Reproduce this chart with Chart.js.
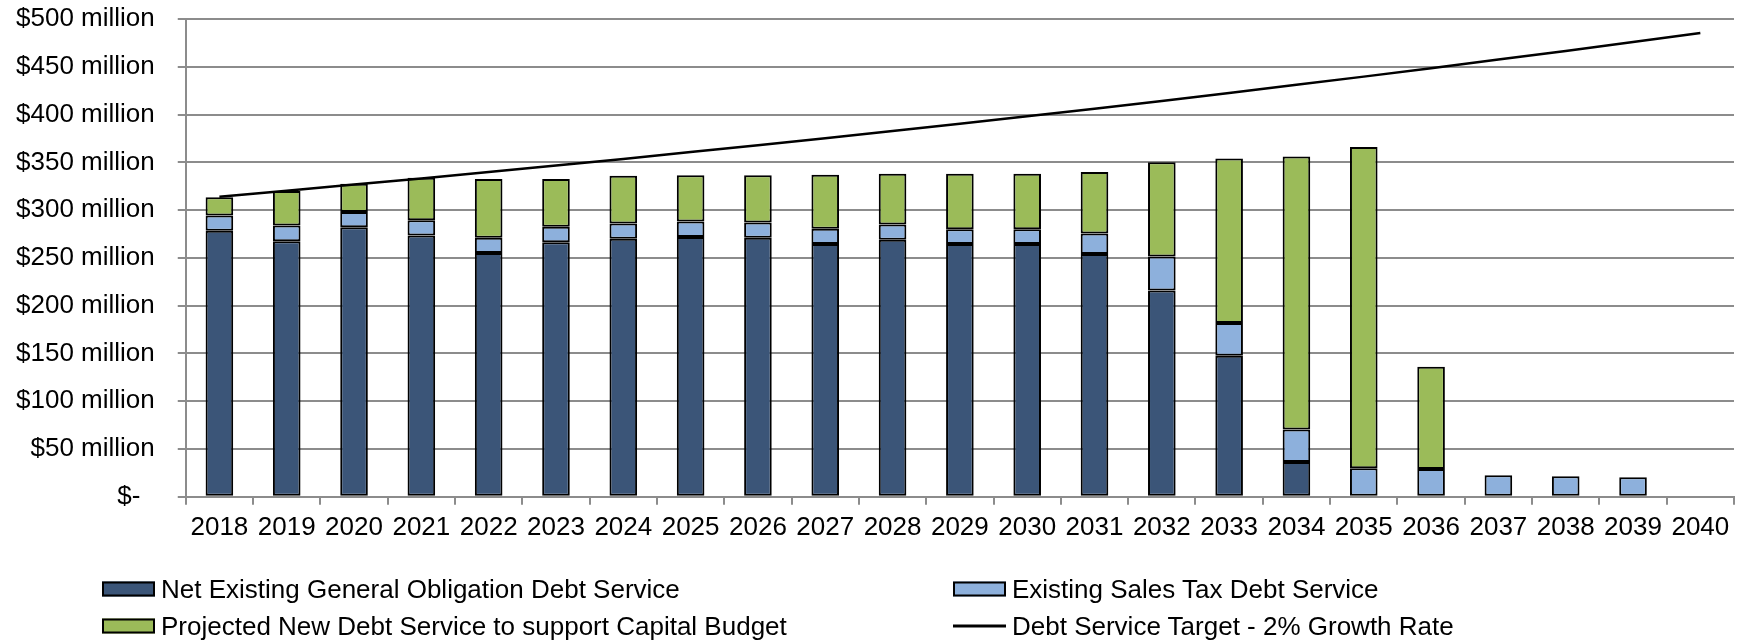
<html>
<head>
<title>Debt Service Projection</title>
<script src="https://cdn.jsdelivr.net/npm/chart.js@4/dist/chart.umd.min.js"></script>
<style>
body { margin: 0; background: #fff; }
#wrap { position: relative; width: 1745px; height: 644px; }
#legend { position: absolute; left: 0; top: 0; font-family: "Liberation Sans", Arial, sans-serif; font-size: 26px; color: #000; }
.item { position: absolute; display: flex; align-items: center; white-space: nowrap; transform: translateY(-50%); }
.swatch { width: 49px; height: 11px; border: 2px solid #000; margin-right: 6px; }
.stroke { width: 53px; height: 3px; background: #000; margin-right: 6px; }
</style>
</head>
<body>
<div id="wrap">
  <canvas id="myChart" width="1745" height="644"></canvas>
  <div id="legend"></div>
</div>

<script type="text/javascript">
var years = ["2018", "2019", "2020", "2021", "2022", "2023", "2024", "2025", "2026", "2027", "2028", "2029",
             "2030", "2031", "2032", "2033", "2034", "2035", "2036", "2037", "2038", "2039", "2040"];

// $ millions per year
var netGeneralObligation = [278.5, 267.5, 282, 273.5, 255, 266.5, 270, 272, 271, 264.5, 269, 264.5,
                            264.5, 254, 216, 147.5, 36.5, null, null, null, null, null, null];
var salesTax = [16, 16.5, 16, 16, 16, 16, 16, 16, 16, 16, 16, 15.5,
                15.5, 21.5, 35.5, 34.5, 34, 30, 29, 22.5, 21.5, 20.5, null];
var newDebt = [19, 36, 29.5, 44.5, 61.5, 50, 50, 48.5, 49.5, 56.5, 53, 58,
               58, 64.5, 98.5, 172, 285.5, 336, 107, null, null, null, null];
var targetLine = [314, 320.3, 326.7, 333.2, 339.9, 346.7, 353.6, 360.7, 367.9, 375.3, 382.8, 390.4,
                  398.2, 406.2, 414.3, 422.6, 431.1, 439.7, 448.5, 457.5, 466.6, 475.9, 485.4];

var yMin = 0, yMax = 500, yStep = 50;

var fontFamily = '"Liberation Sans", Arial, sans-serif';
var gridColor = "#8c8c8c";

function moneyLabel(v) {
  return v === 0 ? "$-  " : "$" + v + " million";
}

function barSet(label, values, color) {
  return {
    type: "bar",
    label: label,
    data: values,
    backgroundColor: color,
    borderColor: "#000",
    borderWidth: 2,
    borderSkipped: false,
    stack: "debt",
    order: 1
  };
}

var data = {
  labels: years,
  datasets: [
    barSet("Net Existing General Obligation Debt Service", netGeneralObligation, "#3b5578"),
    barSet("Existing Sales Tax Debt Service", salesTax, "#8db0dc"),
    barSet("Projected New Debt Service to support Capital Budget", newDebt, "#9bbb59"),
    {
      type: "line",
      label: "Debt Service Target - 2% Growth Rate",
      data: targetLine,
      borderColor: "#000",
      backgroundColor: "#000",
      borderWidth: 2.5,
      pointRadius: 0,
      tension: 0,
      fill: false,
      stack: "target",
      order: 0
    }
  ]
};

var ctx = document.getElementById("myChart").getContext("2d");

var myChart = new Chart(ctx, {
  type: "bar",
  data: data,
  options: {
    responsive: false,
    animation: false,
    layout: { padding: { left: -7, right: 11, top: 19, bottom: 94 } },
    datasets: { bar: { barPercentage: 0.41, categoryPercentage: 1.0 } },
    plugins: {
      legend: { display: false },
      tooltip: { enabled: false }
    },
    scales: {
      x: {
        stacked: true,
        grid: { offset: true, drawOnChartArea: false, drawTicks: true, tickLength: 8, color: gridColor, lineWidth: 2 },
        border: { color: gridColor, width: 2 },
        ticks: { color: "#000", padding: 7, maxRotation: 0, autoSkip: false, font: { family: fontFamily, size: 26 } }
      },
      y: {
        stacked: true,
        min: yMin,
        max: yMax,
        grid: { color: gridColor, lineWidth: 2, tickLength: 8 },
        border: { color: gridColor, width: 2 },
        ticks: {
          stepSize: yStep,
          color: "#000",
          padding: 23,
          font: { family: fontFamily, size: 26 },
          callback: function(v) { return moneyLabel(v); }
        },
        // the wide tick padding would otherwise push the plot top down
        afterFit: function(scale) {
          scale.paddingTop = 0;
        }
      }
    }
  }
});

// two-column legend under the plot, built from the chart's datasets
function buildLegend(chart) {
  var spots = [[102, 589], [953, 589], [102, 626], [953, 626]];
  var box = document.getElementById("legend");
  chart.data.datasets.forEach(function(ds, i) {
    var item = document.createElement("div");
    item.className = "item";
    item.style.left = spots[i][0] + "px";
    item.style.top = spots[i][1] + "px";
    var mark = document.createElement("span");
    if (ds.type === "line") {
      mark.className = "stroke";
    } else {
      mark.className = "swatch";
      mark.style.background = ds.backgroundColor;
    }
    var txt = document.createElement("span");
    txt.textContent = ds.label;
    item.appendChild(mark);
    item.appendChild(txt);
    box.appendChild(item);
  });
}
buildLegend(myChart);
</script>
</body>
</html>
